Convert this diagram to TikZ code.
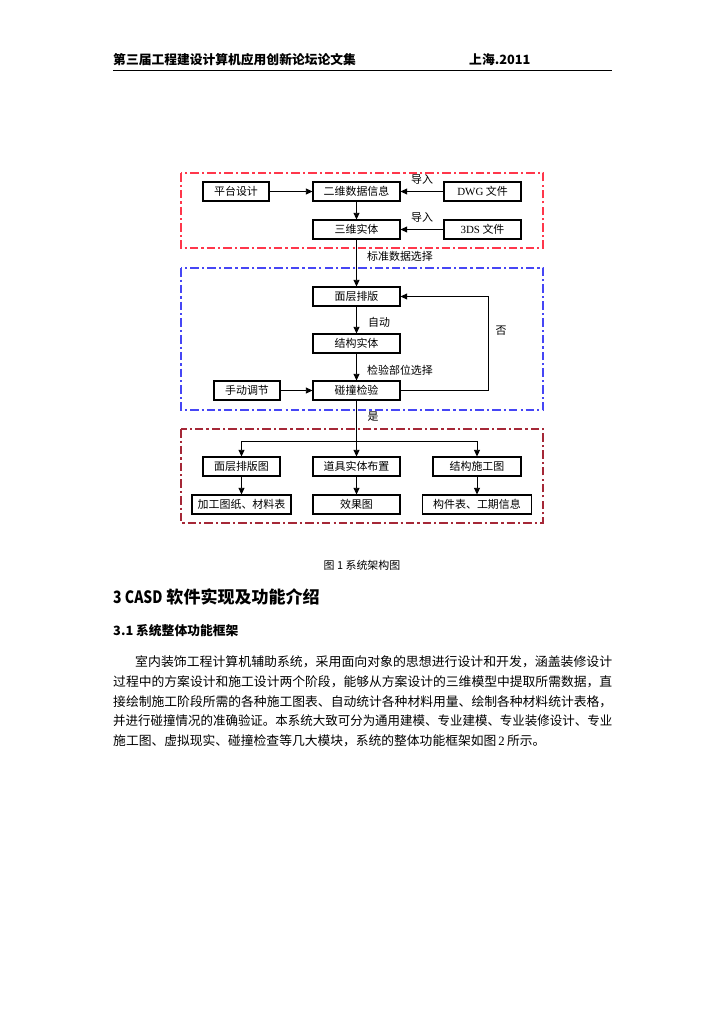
\documentclass[tikz,border=0pt]{standalone}
\usepackage{fontspec}
\usepackage{graphicx}
\setmainfont{Liberation Serif}
\newfontfamily\cjk{Noto Sans CJK SC}
\newfontfamily\lserif{Liberation Serif}
\usetikzlibrary{arrows.meta}
\definecolor{redA}{RGB}{255,55,75}
\definecolor{blueA}{RGB}{70,70,245}
\definecolor{redB}{RGB}{165,40,55}
\newcommand\justline[2]{\resizebox{#1}{\height}{#2}}
\begin{document}
\begin{tikzpicture}[x=0.8222pt,y=-0.8222pt,
  every node/.style={font=\cjk},
  box/.style={draw, line width=0.9pt, inner sep=0pt, minimum height=19*0.8222pt, font=\cjk\fontsize{9}{10}\selectfont},
  bw/.style={minimum width=#1*0.8222pt},
  lbl/.style={inner sep=0pt, font=\cjk\fontsize{9}{10}\selectfont},
  arr/.style={line width=0.8pt, -{Triangle[length=5.5pt,width=5pt]}},
  ln/.style={line width=0.8pt},
  frame/.style={line width=1.1pt, dash pattern=on 7pt off 2.5pt on 1.8pt off 2.5pt},
  body/.style={anchor=base west, inner sep=0pt, font=\cjk\fontsize{10.5}{12}\selectfont}
]
\fill[white] (0,0) rectangle (724,1024);
\useasboundingbox (0,0) rectangle (724,1024);

% header
\node[body, font=\cjk\bfseries\fontsize{10.5}{12}\selectfont] (h1) at (113,65) {第三届工程建设计算机应用创新论坛论文集};
\node[body, font=\cjk\bfseries\fontsize{10.5}{12}\selectfont] (h2) at (469,65) {上海.2011};
\draw[line width=0.8pt] (113,70) -- (612,70);

% frames
\draw[frame, color=redA] (181,173) rectangle (543,248);
\draw[frame, color=blueA] (181,268) rectangle (543,410);
\draw[frame, color=redB] (181,429) rectangle (543,523);

% boxes
\node[box, bw=66] (p1) at (236,191.5) {平台设计};
\node[box, bw=87] (p2) at (356.5,191.5) {二维数据信息};
\node[box, bw=77] (p3) at (482.5,191.5) {{\lserif DWG} 文件};
\node[box, bw=87] (p4) at (356.5,229.5) {三维实体};
\node[box, bw=77] (p5) at (482.5,229.5) {{\lserif 3DS} 文件};
\node[box, bw=87] (b1) at (356.5,296.5) {面层排版};
\node[box, bw=87] (b2) at (356.5,343.5) {结构实体};
\node[box, bw=87] (b3) at (356.5,390.5) {碰撞检验};
\node[box, bw=66] (b4) at (247,390.5) {手动调节};
\node[box, bw=77] (c1) at (241.5,466.5) {面层排版图};
\node[box, bw=87] (c2) at (356.5,466.5) {道具实体布置};
\node[box, bw=88] (c3) at (477,466.5) {结构施工图};
\node[box, bw=99] (d1) at (241.5,504.5) {加工图纸、材料表};
\node[box, bw=87] (d2) at (356.5,504.5) {效果图};
\node[box, bw=109] (d3) at (477,504.5) {构件表、工期信息};

% labels
\node[lbl] (l1) at (422,179) {导入};
\node[lbl] (l2) at (422,217) {导入};
\node[lbl] (l3) at (400,256) {标准数据选择};
\node[lbl] (l4) at (379,322) {自动};
\node[lbl] (l5) at (400,370) {检验部位选择};
\node[lbl] (l6) at (501,331) {否};
\node[lbl] (l7) at (373,417) {是};

% connectors
\draw[arr] (p1) -- (p2);
\draw[arr] (p3) -- (p2);
\draw[arr] (p5) -- (p4);
\draw[arr] (p2) -- (p4);
\draw[arr] (p4) -- (b1);
\draw[arr] (b1) -- (b2);
\draw[arr] (b2) -- (b3);
\draw[arr] (b4) -- (b3);
\coordinate (k) at (488,0);
\draw[arr] (b3.east) -- (b3.east -| k) -- (b1.east -| k) -- (b1.east);
\draw[arr] (b3) -- (c2);
\coordinate (j) at (0,441);
\draw[ln] (c1.north |- j) -- (c3.north |- j);
\draw[arr] (c1.north |- j) -- (c1.north);
\draw[arr] (c3.north |- j) -- (c3.north);
\draw[arr] (c1) -- (d1);
\draw[arr] (c2) -- (d2);
\draw[arr] (c3) -- (d3);

% caption and text
\node[inner sep=0pt, font=\cjk\fontsize{9}{10}\selectfont] (cap) at (362,565) {图 1 系统架构图};
\node[anchor=west, inner sep=0pt, font=\cjk\bfseries\fontsize{14}{16}\selectfont] (sec) at (113,597) {\scalebox{0.82}[1]{3 CASD} 软件实现及功能介绍};
\node[anchor=west, inner sep=0pt, font=\cjk\bfseries\fontsize{10.5}{12}\selectfont] (sub) at (113,631) {3.1 系统整体功能框架};
\node[body] (t1) at (135,666) {\justline{392.2pt}{室内装饰工程计算机辅助系统，采用面向对象的思想进行设计和开发，涵盖装修设计}};
\node[body] (t2) at (113,686) {\justline{410.3pt}{过程中的方案设计和施工设计两个阶段，能够从方案设计的三维模型中提取所需数据，直}};
\node[body] (t3) at (113,706) {\justline{410.3pt}{接绘制施工阶段所需的各种施工图表、自动统计各种材料用量、绘制各种材料统计表格，}};
\node[body] (t4) at (113,725) {\justline{410.3pt}{并进行碰撞情况的准确验证。本系统大致可分为通用建模、专业建模、专业装修设计、专业}};
\node[body] (t5) at (113,745) {施工图、虚拟现实、碰撞检查等几大模块，系统的整体功能框架如图{\lserif\,2\,}所示。};
\end{tikzpicture}
\end{document}
